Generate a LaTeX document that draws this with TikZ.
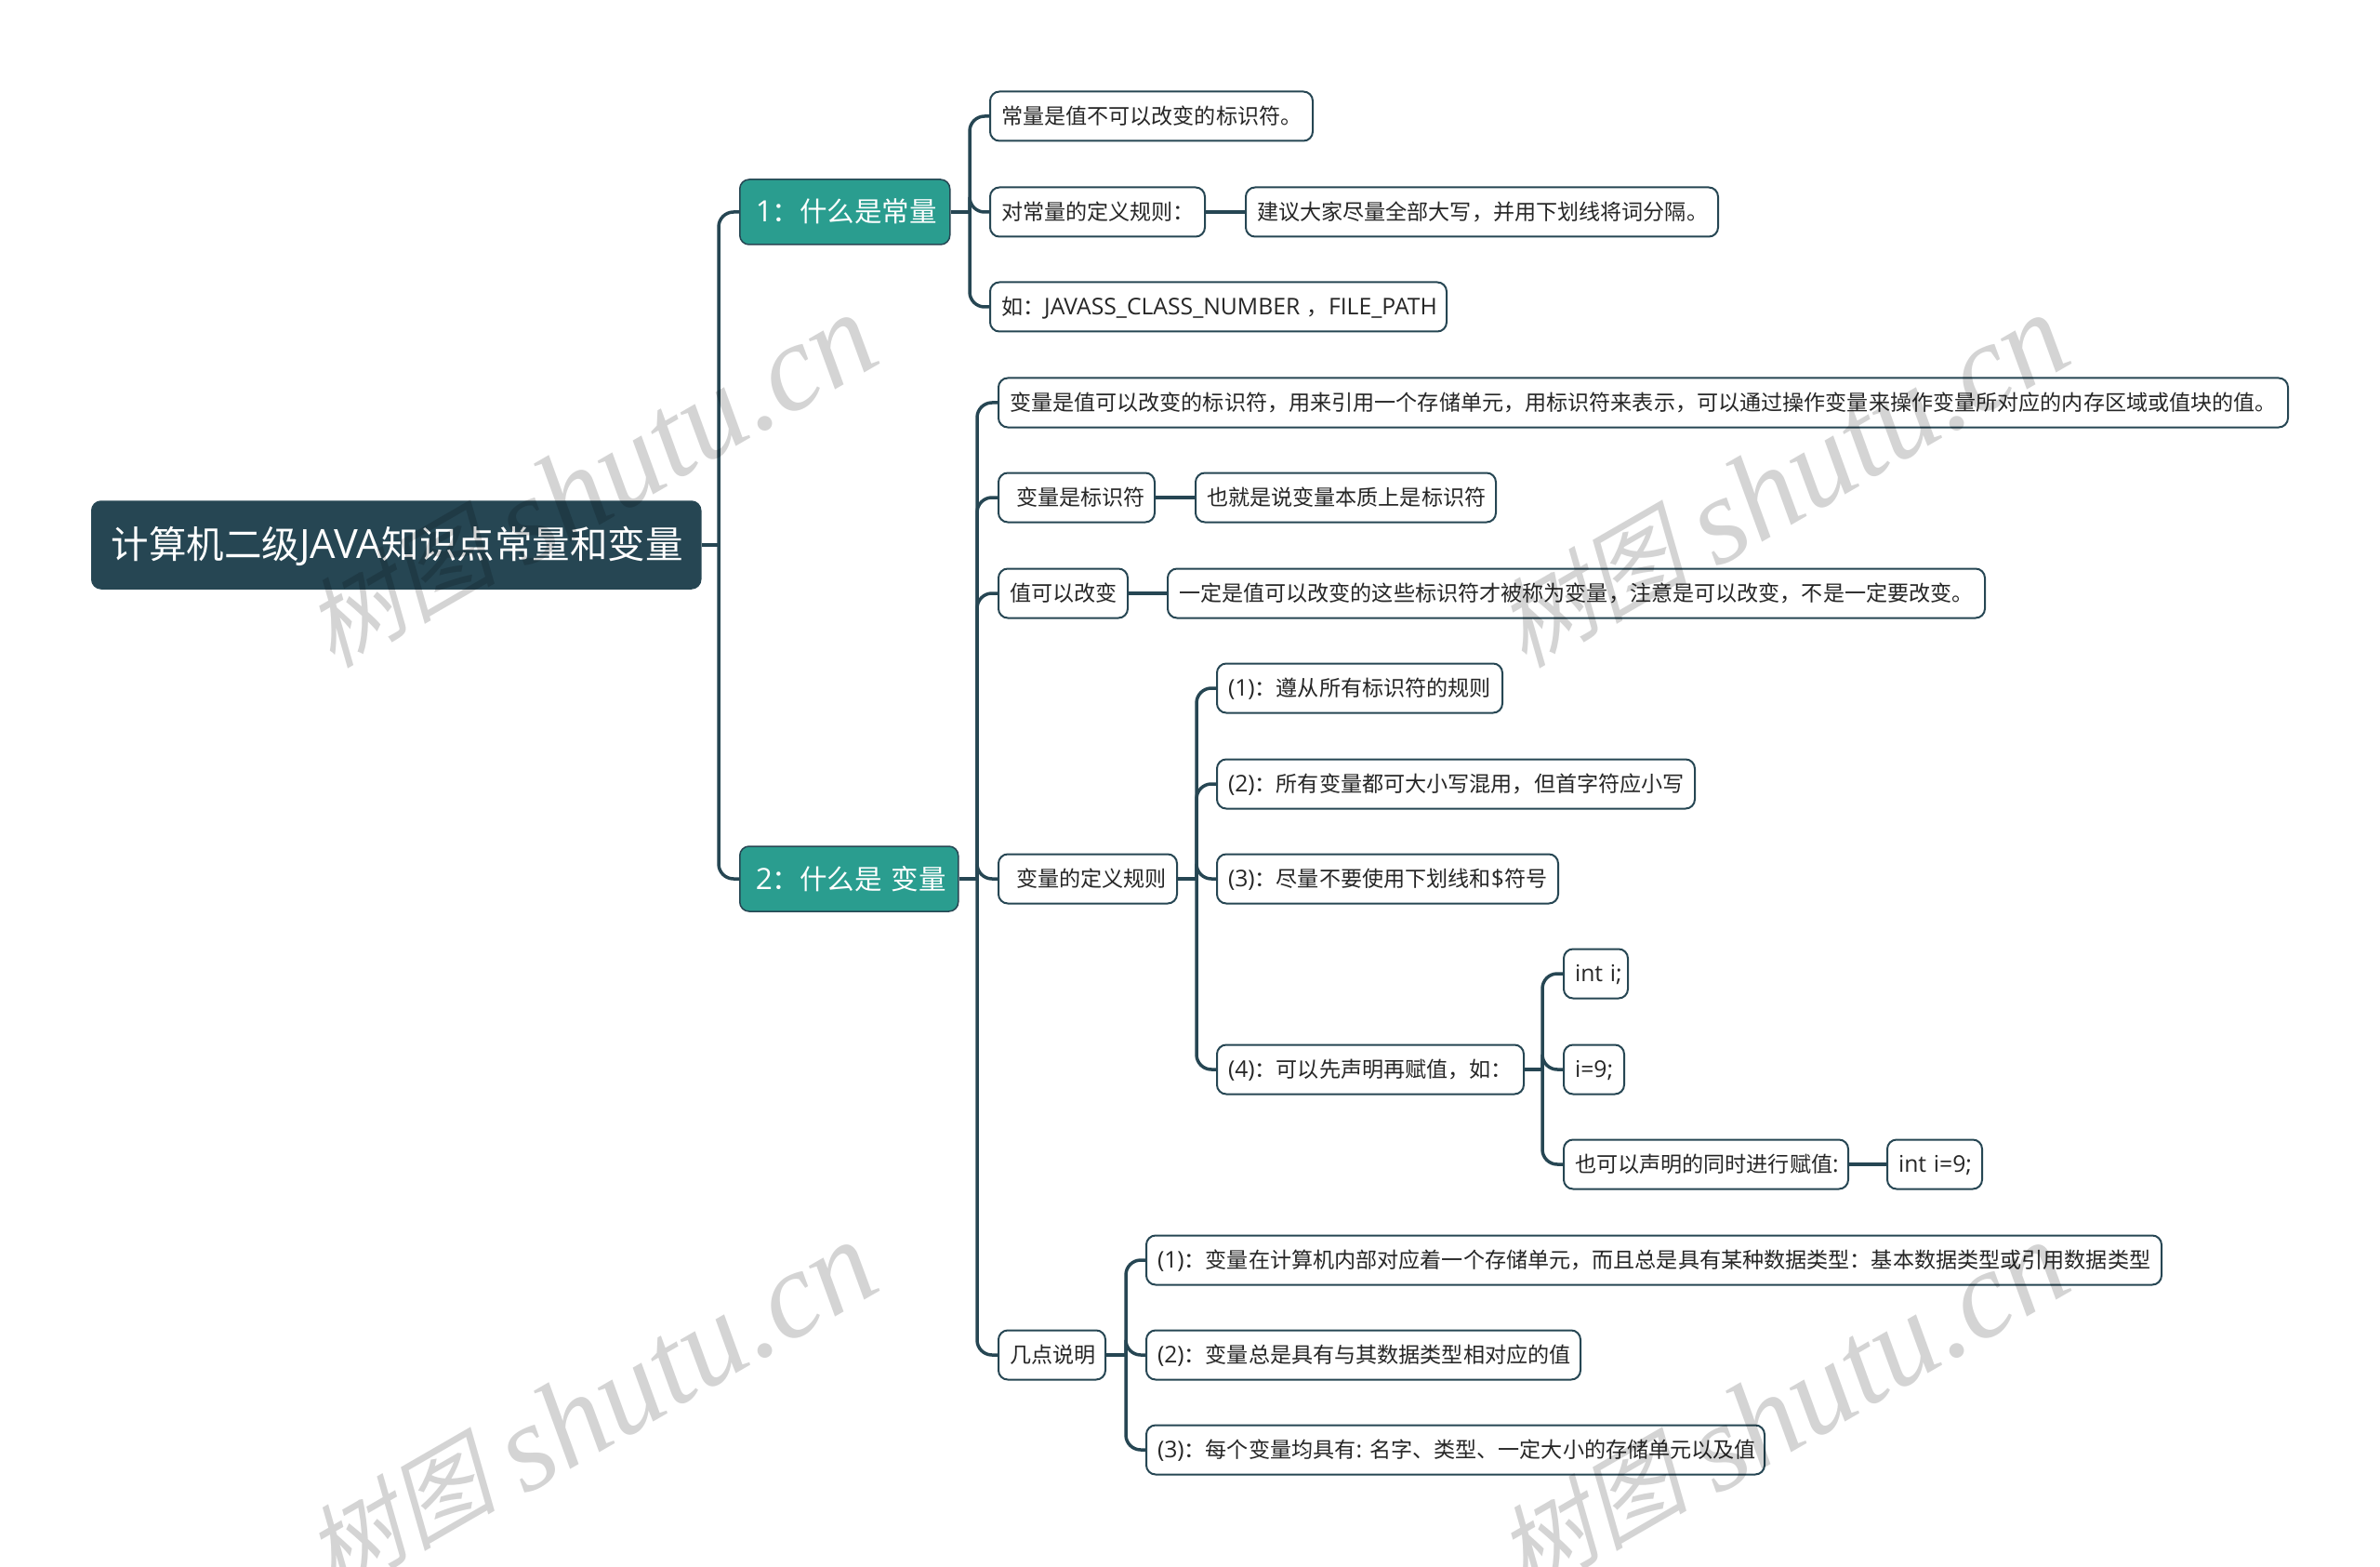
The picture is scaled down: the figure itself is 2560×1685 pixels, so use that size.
\documentclass[tikz,border=0pt]{standalone}
\usepackage{fontspec}
\setmainfont{Noto Sans CJK SC}
\newfontfamily\la[Scale=1.07]{Open Sans}
\newfontfamily\markcjk[FakeSlant=0.25]{Noto Sans CJK SC}
\newfontfamily\markla{Liberation Serif}
\definecolor{rootcol}{HTML}{264653}
\definecolor{teal}{HTML}{2A9D8F}
\definecolor{markcol}{HTML}{D4D4D4}
\tikzset{
  rootbox/.style={draw=rootcol,fill=rootcol,text=white,rounded corners=10pt,line width=1.5pt,
    anchor=west,minimum height=94pt,inner xsep=21pt,inner ysep=0pt,text width=613pt,align=left,
    text height=38pt,text depth=9pt,font=\fontsize{40.5}{48}\selectfont},
  branchbox/.style={draw=rootcol,fill=teal,text=white,rounded corners=10pt,line width=1.5pt,
    anchor=west,minimum height=70pt,inner xsep=17pt,inner ysep=0pt,text width=#1,align=left,
    text height=29pt,text depth=7pt,font=\fontsize{29.5}{36}\selectfont},
  leaf/.style={draw=rootcol,fill=white,rounded corners=10pt,line width=2pt,text=black!85,
    anchor=west,minimum height=53pt,inner xsep=12pt,inner ysep=0pt,text width=#1,align=left,
    text height=23pt,text depth=6pt,font=\fontsize{23.1}{28}\selectfont},
  link/.style={draw=rootcol,line width=3.5pt,rounded corners=16pt},
  markword/.style={text=markcol,rotate=30,anchor=base east},
}
\begin{document}
\begin{tikzpicture}[x=1pt,y=-1pt]
    \useasboundingbox (0,0) rectangle (2560,1685);
    % Root and branches
    \node[rootbox] (root) at (98,586) {计算机二级{\la JAVA}知识点常量和变量};
    \node[branchbox=192pt] (const) at (795,228) {{\la 1}：什么是常量};
    \node[branchbox=201pt] (var) at (795,945) {{\la 2}：什么是~变量};

    % Constant side
    \node[leaf=323pt] (consta) at (1064,125) {常量是值不可以改变的标识符。};
    \node[leaf=207pt] (constb) at (1064,228) {对常量的定义规则：};
    \node[leaf=484pt] (constbb) at (1339,228) {建议大家尽量全部大写，并用下划线将词分隔。};
    \node[leaf=467pt] (constc) at (1064,330) {如：{\la JAVASS\_CLASS\_NUMBER~}，{\la FILE\_PATH}};

    % Variable side
    \node[leaf=1363pt] (vara) at (1073,433) {变量是值可以改变的标识符，用来引用一个存储单元，用标识符来表示，可以通过操作变量来操作变量所对应的内存区域或值块的值。};
    \node[leaf=144pt] (varb) at (1073,535) {\hspace*{7pt}变量是标识符};
    \node[leaf=299pt] (varbb) at (1285,535) {也就是说变量本质上是标识符};
    \node[leaf=115pt] (varc) at (1073,638) {值可以改变};
    \node[leaf=855pt] (varcc) at (1255,638) {一定是值可以改变的这些标识符才被称为变量，注意是可以改变，不是一定要改变。};
    \node[leaf=168pt] (vard) at (1073,945) {\hspace*{7pt}变量的定义规则};
    \node[leaf=91pt] (vare) at (1073,1457) {几点说明};

    % Definition rules
    \node[leaf=283pt] (rulea) at (1308,740) {{\la (1)}：遵从所有标识符的规则};
    \node[leaf=490pt] (ruleb) at (1308,843) {{\la (2)}：所有变量都可大小写混用，但首字符应小写};
    \node[leaf=343pt] (rulec) at (1308,945) {{\la (3)}：尽量不要使用下划线和{\la\$}符号};
    \node[leaf=306pt] (ruled) at (1308,1150) {{\la (4)}：可以先声明再赋值，如：};
    \node[leaf=45pt] (inta) at (1681,1047) {\mbox{\la int i;}};
    \node[leaf=41pt] (intb) at (1681,1150) {\mbox{\la i=9;}};
    \node[leaf=282pt] (intc) at (1681,1252) {也可以声明的同时进行赋值{\la :}};
    \node[leaf=78pt] (intd) at (2029,1252) {\mbox{\la int i=9;}};

    % Notes
    \node[leaf=1068pt] (notea) at (1232,1355) {{\la (1)}：变量在计算机内部对应着一个存储单元，而且总是具有某种数据类型：基本数据类型或引用数据类型};
    \node[leaf=443pt] (noteb) at (1232,1457) {{\la (2)}：变量总是具有与其数据类型相对应的值};
    \node[leaf=641pt] (notec) at (1232,1559) {{\la (3)}：每个变量均具有{\la :}\hspace{8pt}名字、类型、一定大小的存储单元以及值};

    % Joints on the trunks
    \coordinate (jointroot) at (773,586);
    \coordinate (jointconst) at (1043,228);
    \coordinate (jointvar) at (1051,945);
    \coordinate (jointdef) at (1287,945);
    \coordinate (jointint) at (1659,1150);
    \coordinate (jointnote) at (1211,1457);

    % Draw links
    \draw[link] (root.east) -- (jointroot);
    \foreach \kid in {const,var} \draw[link] (jointroot) |- (\kid.west);
    \draw[link] (const.east) -- (jointconst);
    \foreach \kid in {consta,constb,constc} \draw[link] (jointconst) |- (\kid.west);
    \draw[link] (var.east) -- (jointvar);
    \foreach \kid in {vara,varb,varc,vard,vare} \draw[link] (jointvar) |- (\kid.west);
    \draw[link] (vard.east) -- (jointdef);
    \foreach \kid in {rulea,ruleb,rulec,ruled} \draw[link] (jointdef) |- (\kid.west);
    \draw[link] (ruled.east) -- (jointint);
    \foreach \kid in {inta,intb,intc} \draw[link] (jointint) |- (\kid.west);
    \draw[link] (vare.east) -- (jointnote);
    \foreach \kid in {notea,noteb,notec} \draw[link] (jointnote) |- (\kid.west);
    \draw[link] (constb.east) -- (constbb.west);
    \draw[link] (varb.east) -- (varbb.west);
    \draw[link] (varc.east) -- (varcc.west);
    \draw[link] (intc.east) -- (intd.west);

    % Watermarks
    \begin{scope}[blend mode=multiply]
    \foreach \mx/\my [count=\mi] in {955/386,2237/386,955/1383,2237/1383}
        \node[markword] (mark\mi) at (\mx,\my) {\fontsize{104}{120}\markcjk\raisebox{10pt}{树图}\hspace{26pt}\fontsize{133}{140}\selectfont\markla\itshape shutu.cn};
    \end{scope}
\end{tikzpicture}
\end{document}
